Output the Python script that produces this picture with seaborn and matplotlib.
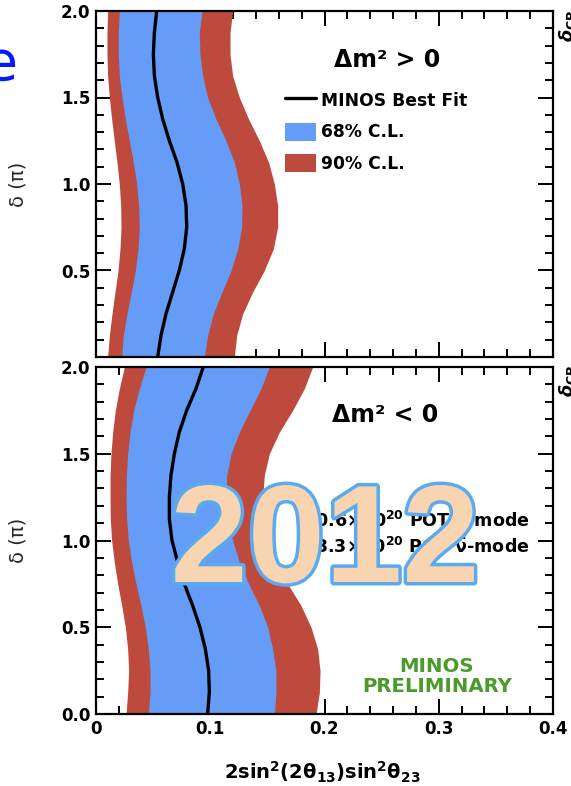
import matplotlib
matplotlib.use("Agg")
import matplotlib.pyplot as plt
import matplotlib.patheffects as pe
import pandas as pd
import seaborn as sns
from matplotlib.lines import Line2D
from matplotlib.patches import Patch
from matplotlib.ticker import MultipleLocator, FuncFormatter

# delta_CP (units of pi), sampled from top to bottom of each panel
delta = [2.0, 1.875, 1.75, 1.625, 1.5, 1.375, 1.25, 1.125, 1.0,
         0.875, 0.75, 0.625, 0.5, 0.375, 0.25, 0.125, 0.0]

# Delta m^2 > 0 : 2 sin^2(2 theta13) sin^2(theta23) contours
pos_90_lo = [.0102, .0096, .0096, .0102, .0117, .0137, .0160, .0184, .0204,
             .0216, .0219, .0210, .0193, .0166, .0140, .0117, .0102]
pos_68_lo = [.0204, .0195, .0195, .0204, .0228, .0257, .0292, .0327, .0356,
             .0373, .0379, .0368, .0344, .0309, .0271, .0239, .0225]
pos_best = [.0531, .0511, .0502, .0511, .0540, .0584, .0642, .0709, .0759,
            .0788, .0794, .0773, .0729, .0671, .0613, .0569, .0540]
pos_68_hi = [.0928, .0904, .0910, .0934, .0977, .1050, .1138, .1211, .1255,
             .1278, .1275, .1240, .1182, .1103, .1027, .0977, .0948]
pos_90_hi = [.1196, .1173, .1173, .1196, .1255, .1336, .1430, .1511, .1561,
             .1590, .1590, .1552, .1473, .1371, .1284, .1231, .1211]

# Delta m^2 < 0
neg_90_lo = [.0248, .0204, .0169, .0146, .0131, .0123, .0123, .0125, .0137,
             .0160, .0190, .0225, .0257, .0277, .0286, .0277, .0263]
neg_68_lo = [.0438, .0379, .0330, .0298, .0277, .0266, .0263, .0268, .0283,
             .0312, .0350, .0394, .0432, .0458, .0473, .0473, .0458]
neg_best = [.0939, .0875, .0794, .0729, .0686, .0656, .0642, .0642, .0665,
            .0715, .0773, .0846, .0910, .0957, .0986, .0992, .0977]
neg_68_hi = [.1517, .1444, .1348, .1255, .1182, .1144, .1138, .1152, .1196,
             .1255, .1336, .1430, .1503, .1546, .1575, .1575, .1561]
neg_90_hi = [.1896, .1823, .1721, .1605, .1517, .1473, .1459, .1473, .1503,
             .1575, .1678, .1794, .1882, .1940, .1961, .1955, .1926]

legend_labels = ["MINOS Best Fit", "68% C.L.", "90% C.L."]
x_ticks = [0.0, 0.1, 0.2, 0.3, 0.4]
y_ticks = [0.0, 0.5, 1.0, 1.5, 2.0]

BLUE = "#659cf7"
RED = "#bd4a3c"
GREEN = "#4a9b2a"

sns.set_theme(style="ticks")
plt.rcParams.update({
    "font.family": ["DejaVu Sans"],
    "font.weight": "bold",
    "mathtext.fontset": "dejavusans",
    "axes.edgecolor": "black",
    "xtick.color": "black",
    "ytick.color": "black",
    "text.color": "black",
})

W, H = 571, 786
fig = plt.figure(figsize=(W / 100, H / 100), dpi=100)
fig.patch.set_facecolor("white")


def box(l, t, r, b):
    return [l / W, 1 - b / H, (r - l) / W, (b - t) / H]


def fx(x):
    return x / W


def fy(y):
    return 1 - y / H


ax_top = fig.add_axes(box(96, 11, 553, 357))
ax_bot = fig.add_axes(box(96, 367, 553, 714))


def draw_panel(ax, lo90, lo68, best, hi68, hi90):
    ax.fill_betweenx(delta, lo90, hi90, color=RED, lw=0, zorder=1)
    ax.fill_betweenx(delta, lo68, hi68, color=BLUE, lw=0, zorder=2)
    df = pd.DataFrame({"s": best, "d": delta})
    sns.lineplot(data=df, x="s", y="d", sort=False, estimator=None,
                 color="black", lw=2.4, ax=ax, legend=False, zorder=3)
    ax.set_xlim(0, 0.4)
    ax.set_ylim(0, 2)
    ax.set_xticks(x_ticks)
    ax.set_yticks(y_ticks)
    ax.xaxis.set_minor_locator(MultipleLocator(0.02))
    ax.yaxis.set_minor_locator(MultipleLocator(0.1))
    ax.tick_params(which="both", direction="in", top=True, right=True,
                   width=1.4, labelsize=12, pad=4)
    ax.tick_params(which="major", length=11)
    ax.tick_params(which="minor", length=5.5)
    for s in ax.spines.values():
        s.set_linewidth(1.6)
        s.set_color("black")
    ax.set_xlabel("")
    ax.set_ylabel("δ (π)", fontsize=14, fontweight="normal")
    ax.yaxis.set_label_coords(-0.149, 0.5)


draw_panel(ax_top, pos_90_lo, pos_68_lo, pos_best, pos_68_hi, pos_90_hi)
draw_panel(ax_bot, neg_90_lo, neg_68_lo, neg_best, neg_68_hi, neg_90_hi)

ax_top.tick_params(labelbottom=False)
ax_top.yaxis.set_major_formatter(
    FuncFormatter(lambda v, p: "" if abs(v) < 1e-9 else f"{v:.1f}"))
ax_bot.yaxis.set_major_formatter(FuncFormatter(lambda v, p: f"{v:.1f}"))
ax_bot.xaxis.set_major_formatter(
    FuncFormatter(lambda v, p: "0" if abs(v) < 1e-9 else f"{v:.1f}"))

# legend of the upper panel
handles = [Line2D([], [], color="black", lw=2.4),
           Patch(facecolor=BLUE, edgecolor="none"),
           Patch(facecolor=RED, edgecolor="none")]
ax_top.legend(handles, legend_labels, loc="center left",
              bbox_to_anchor=(fx(285), fy(132)), bbox_transform=fig.transFigure,
              frameon=False, fontsize=12.3, handlelength=1.8, handleheight=1.25,
              handletextpad=0.3, labelspacing=0.75, borderpad=0,
              borderaxespad=0)

fig.text(fx(387), fy(67), "Δm² > 0", ha="center", va="baseline", fontsize=17)
fig.text(fx(385), fy(422), "Δm² < 0", ha="center", va="baseline", fontsize=17)

fig.text(fx(530), fy(527), r"10.6$\times$10$^{20}$ POT ν-mode",
         ha="right", va="baseline", fontsize=12.6)
fig.text(fx(530), fy(553), r"3.3$\times$10$^{20}$ POT $\mathbf{\bar{\nu}}$-mode",
         ha="right", va="baseline", fontsize=12.6)

fig.text(fx(437), fy(672), "MINOS", ha="center", va="baseline",
         fontsize=14.2, color=GREEN)
fig.text(fx(437), fy(692), "PRELIMINARY", ha="center", va="baseline",
         fontsize=14.2, color=GREEN)

fig.text(fx(322), fy(772), r"$\mathbf{2sin^2(2\theta_{13})sin^2\theta_{23}}$",
         ha="center", va="center", fontsize=14)

# slide decorations around the plot
fig.text(fx(18), fy(80), "e", ha="right", va="baseline", fontsize=40,
         fontweight="normal", color="#0a1aff")
for y0 in (42, 397):
    fig.text(fx(557), fy(y0), r"$\delta_{\rm CP}$", rotation=90, ha="left",
             va="bottom", fontsize=13, fontweight="normal")

fig.text(fx(325), fy(582), "2012", ha="center", va="baseline",
         fontsize=100, fontweight="bold", family=["Liberation Sans"],
         color="#f9d4b0", zorder=10,
         path_effects=[pe.Stroke(linewidth=5, foreground="#5aaaf0"),
                       pe.Normal()])

fig.savefig("out.png", dpi=100, facecolor="white")
